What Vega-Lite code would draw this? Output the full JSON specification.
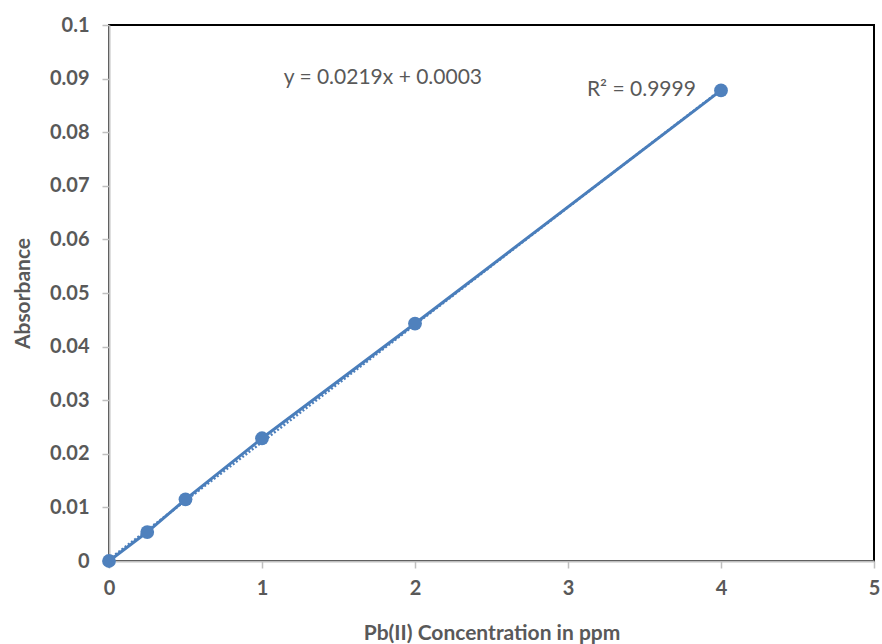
{
  "$schema": "https://vega.github.io/schema/vega-lite/v6.json",
  "width": 765,
  "height": 536,
  "autosize": "none",
  "padding": {"left": 109, "top": 25, "right": 8, "bottom": 83},
  "background": "white",
  "config": {
    "view": {"stroke": "#000000", "strokeWidth": 2},
    "font": "Lato"
  },
  "datasets": {
    "points": [
      {"conc": 0, "abs": 0.0},
      {"conc": 0.25, "abs": 0.0054},
      {"conc": 0.5, "abs": 0.0115},
      {"conc": 1, "abs": 0.0229},
      {"conc": 2, "abs": 0.0443},
      {"conc": 4, "abs": 0.0878}
    ],
    "trend": [
      {"conc": 0, "abs": 0.0003},
      {"conc": 4, "abs": 0.0879}
    ],
    "labels": [
      {"conc": 1.79, "abs": 0.0901, "text": "y = 0.0219x + 0.0003"},
      {"conc": 3.48, "abs": 0.0879, "text": "R² = 0.9999"}
    ]
  },
  "encoding": {
    "x": {
      "field": "conc",
      "type": "quantitative",
      "scale": {"domain": [0, 5], "nice": false, "zero": true},
      "axis": {
        "title": "Pb(II) Concentration in ppm",
        "values": [0, 1, 2, 3, 4, 5],
        "grid": false,
        "labelFlush": false,
        "domainColor": "#bfbfbf",
        "domainWidth": 2,
        "tickColor": "#bfbfbf",
        "tickWidth": 1.5,
        "tickSize": 7,
        "labelFont": "Lato",
        "labelFontSize": 20,
        "labelFontWeight": "bold",
        "labelColor": "#595959",
        "labelPadding": 10,
        "titleFont": "Lato",
        "titleFontSize": 21,
        "titleFontWeight": "bold",
        "titleColor": "#595959",
        "titlePadding": 24
      }
    },
    "y": {
      "field": "abs",
      "type": "quantitative",
      "scale": {"domain": [0, 0.1], "nice": false},
      "axis": {
        "title": "Absorbance",
        "values": [0, 0.01, 0.02, 0.03, 0.04, 0.05, 0.06, 0.07, 0.08, 0.09, 0.1],
        "format": "~g",
        "grid": false,
        "labelFlush": false,
        "domainColor": "#bfbfbf",
        "domainWidth": 2,
        "tickColor": "#bfbfbf",
        "tickWidth": 1.5,
        "tickSize": 7,
        "labelFont": "Lato",
        "labelFontSize": 20,
        "labelFontWeight": "bold",
        "labelColor": "#595959",
        "labelPadding": 13,
        "titleFont": "Lato",
        "titleFontSize": 21,
        "titleFontWeight": "bold",
        "titleColor": "#595959",
        "titlePadding": 16
      }
    }
  },
  "layer": [
    {
      "data": {"name": "trend"},
      "mark": {"type": "line", "color": "#4f81bd", "strokeWidth": 2.5, "strokeDash": [2, 2]}
    },
    {
      "data": {"name": "points"},
      "mark": {"type": "line", "color": "#4a7ebb", "strokeWidth": 3}
    },
    {
      "data": {"name": "points"},
      "mark": {"type": "point", "filled": true, "shape": "circle", "size": 190, "color": "#4f81bd", "opacity": 1}
    },
    {
      "data": {"name": "labels"},
      "mark": {"type": "text", "font": "Lato", "fontSize": 21, "color": "#595959", "align": "center", "baseline": "middle"},
      "encoding": {"text": {"field": "text"}}
    }
  ]
}
